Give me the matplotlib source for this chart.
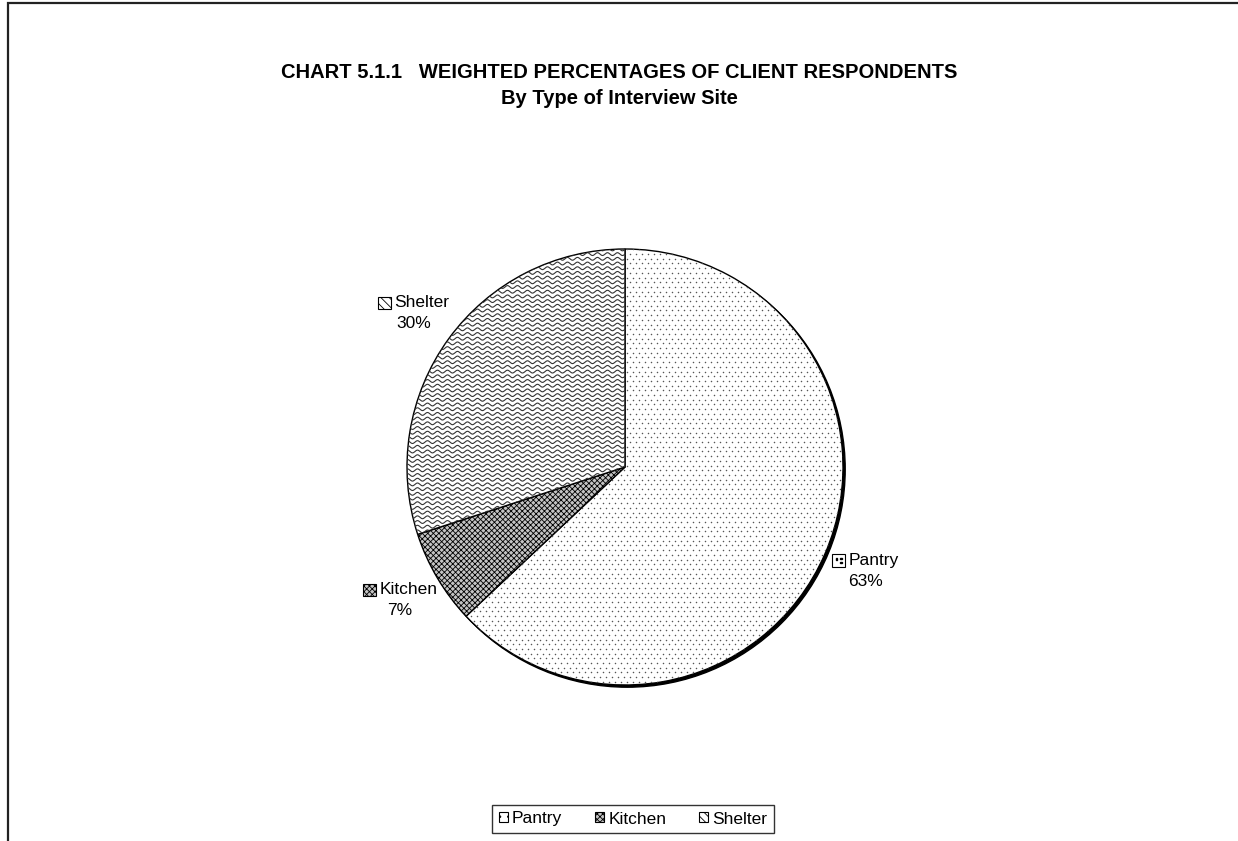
import numpy as np
import matplotlib.pyplot as plt
from matplotlib.patches import Rectangle, Circle, Patch
from matplotlib.offsetbox import (AnnotationBbox, DrawingArea, HPacker,
                                  TextArea, VPacker)

plt.rcParams['font.family'] = ['Liberation Sans', 'DejaVu Sans']
plt.rcParams['hatch.linewidth'] = 0.6

# site shares (%)
sites = ['Pantry', 'Kitchen', 'Shelter']
shares = [63, 7, 30]

W, H = 1238, 841
fig = plt.figure(figsize=(W / 100, H / 100), dpi=100)

# outer chart frame (runs off the right and bottom edges)
fig.patches.append(Rectangle((8 / W, -0.01), 1.02, (H - 3) / H + 0.01,
                             transform=fig.transFigure, fill=False,
                             edgecolor='#222222', linewidth=1.6))

fig.text(0.5, 1 - 72 / H, 'CHART 5.1.1   WEIGHTED PERCENTAGES OF CLIENT RESPONDENTS',
         ha='center', va='center', fontsize=14.5, fontweight='bold')
fig.text(0.5, 1 - 99 / H, 'By Type of Interview Site',
         ha='center', va='center', fontsize=14.5, fontweight='bold')

# pie axes: 1 data unit = 218 px
R = 218.0
cx, cy = 625, 467
half = 300
ax = fig.add_axes([(cx - half) / W, (H - cy - half) / H, 2 * half / W, 2 * half / H])
ax.set_axis_off()

# drop shadow along the lower right rim
px = 1 / R
ax.add_patch(Circle((2.2 * px, -2.2 * px), 1.0, facecolor='black',
                    edgecolor='black', linewidth=1.0, zorder=0))

wedges, _ = ax.pie(shares, radius=1.0, startangle=90, counterclock=False,
                   wedgeprops=dict(edgecolor='black', linewidth=1.0),
                   frame=False)
ax.set_xlim(-half / R, half / R)
ax.set_ylim(-half / R, half / R)
ax.set_aspect('equal')

w_pan, w_kit, w_she = wedges
w_pan.set_facecolor('white')
w_she.set_facecolor('white')
w_kit.set_facecolor('#c4c4c4')
w_kit.set_hatch('xxxxxx')

# dotted texture for the pantry slice
gx, gy = np.meshgrid(np.arange(-1.05, 1.05, 6 * px), np.arange(-1.05, 1.05, 4.7 * px))
gx = gx + (np.arange(gx.shape[0])[:, None] % 2) * 3 * px
dots = ax.scatter(gx.ravel(), gy.ravel(), s=1.2, color='#555555', linewidths=0, zorder=3)
dots.set_clip_path(w_pan)

# wavy texture for the shelter slice
xs = np.linspace(-1.05, 1.05, 800)
for y0 in np.arange(-1.05, 1.05, 4.7 * px):
    ln, = ax.plot(xs, y0 + 1.4 * px * np.sin(2 * np.pi * xs / (10 * px)),
                  color='#333333', linewidth=0.8, zorder=3)
    ln.set_clip_path(w_she)
for w in wedges:
    w.set_zorder(2)


# small inline key next to each slice label
def key_box(hatch, face):
    da = DrawingArea(10, 10, 0, 0)
    da.add_artist(Rectangle((0.5, 0.5), 9, 9, facecolor=face, edgecolor='black',
                            linewidth=0.8, hatch=hatch))
    return da


key_style = {'Pantry': (None, 'white'), 'Kitchen': ('xxxxxx', '#c4c4c4'),
             'Shelter': ('\\\\\\\\', 'white')}

start = 90.0
for name, val, w in zip(sites, shares, wedges):
    mid = np.deg2rad(start - val * 3.6 / 2)
    start -= val * 3.6
    h, f = key_style[name]
    kb = key_box(h, f)
    if name == 'Pantry':
        kb.add_artist(Rectangle((3, 5.5), 1.2, 1.2, color='black'))
        kb.add_artist(Rectangle((6, 3), 1.2, 1.2, color='black'))
        kb.add_artist(Rectangle((6, 6), 1.2, 1.2, color='black'))
    row1 = HPacker(children=[kb, TextArea(name, textprops=dict(fontsize=12.5))],
                   align='center', pad=0, sep=2)
    row2 = TextArea(f'{val}%', textprops=dict(fontsize=12.5))
    box = VPacker(children=[row1, row2], align='center', pad=0, sep=4)
    ab = AnnotationBbox(box, (1.2 * np.cos(mid), 1.2 * np.sin(mid)), frameon=False,
                        box_alignment=(0.5, 0.5))
    ax.add_artist(ab)

# legend along the bottom
handles = [Patch(facecolor='white', edgecolor='black', hatch='..', linewidth=0.8),
           Patch(facecolor='#c4c4c4', edgecolor='black', hatch='xxxxxx', linewidth=0.8),
           Patch(facecolor='white', edgecolor='black', hatch='\\\\\\\\', linewidth=0.8)]
leg = fig.legend(handles, sites, loc='center', bbox_to_anchor=(633 / W, 1 - 819 / H),
                 ncol=3, fontsize=12.5, frameon=True, fancybox=False,
                 edgecolor='black', handlelength=0.5, handleheight=0.5,
                 handletextpad=0.25, columnspacing=1.9, borderpad=0.4,
                 borderaxespad=0)
leg.get_frame().set_linewidth(1.0)

fig.savefig('out.png', dpi=100)
